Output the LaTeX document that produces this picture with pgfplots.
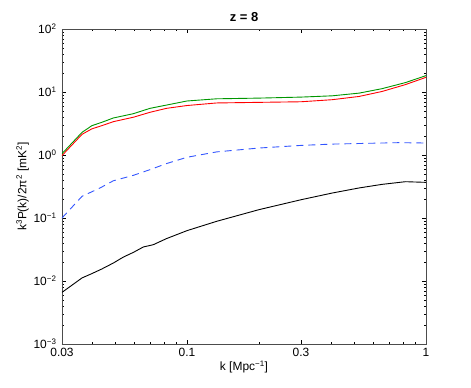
\documentclass[border=0pt]{standalone}
\usepackage{pgfplots}
\pgfplotsset{compat=1.18}
\usepackage{fontspec}
\setmainfont{Liberation Sans}
\definecolor{pgreen}{RGB}{0,150,0}
\definecolor{pred}{RGB}{255,0,0}
\definecolor{pblue}{RGB}{50,85,255}
\begin{document}
\begin{tikzpicture}
\useasboundingbox (-62bp,-44bp) rectangle (409bp,344bp);
\begin{axis}[
    scale only axis,
    width=364bp, height=315bp,
    xmode=log, ymode=log,
    xmin=0.03, xmax=1,
    ymin=1e-3, ymax=1e2,
    font=\fontsize{12}{14}\selectfont,
    /pgf/number format/assume math mode=true,
    xtick={0.03,0.1,0.3,1},
    xticklabels={0.03,0.1,0.3,1},
    minor xtick={0.04,0.05,0.06,0.07,0.08,0.09,0.2,0.4,0.5,0.6,0.7,0.8,0.9},
    ytick={1e-3,1e-2,1e-1,1,1e1,1e2},
    yticklabels={10\textsuperscript{−3},10\textsuperscript{−2},10\textsuperscript{−1},10\textsuperscript{0},10\textsuperscript{1},10\textsuperscript{2}},
    tick align=inside,
    major tick length=4bp,
    minor tick length=2bp,
    every tick/.style={black, line width=0.5pt},
    axis line style={line width=0.6pt, black!70},
    xticklabel style={yshift=-1bp},
    yticklabel style={xshift=-2bp},
    title={\textbf{z = 8}},
    title style={font=\fontsize{13}{15}\selectfont, yshift=-2bp},
    xlabel={k [Mpc\textsuperscript{−1}]},
    ylabel={k\textsuperscript{3}P(k)/2π\textsuperscript{2} [mK\textsuperscript{2}]},
    xlabel style={yshift=3bp},
    ylabel style={yshift=-2bp},
    every axis plot/.append style={line width=0.9pt},
]
% green
\addplot[pgreen] coordinates {
(0.03,1.05)(0.0364,2.29)(0.040,2.92)(0.044,3.3)(0.0492,3.87)(0.0597,4.53)
(0.070,5.5)(0.082,6.2)(0.1,7.2)(0.133,7.8)(0.20,8.0)(0.3,8.3)(0.405,8.7)
(0.525,9.6)(0.655,11.3)(0.82,14.1)(1,18.2)};
% red
\addplot[pred] coordinates {
(0.03,0.98)(0.0364,2.13)(0.040,2.6)(0.044,2.92)(0.0492,3.38)(0.0597,3.98)
(0.070,4.76)(0.082,5.5)(0.1,6.1)(0.133,6.7)(0.20,6.85)(0.3,7.0)(0.405,7.55)
(0.525,8.5)(0.655,10.2)(0.82,13.1)(1,17.1)};
% blue dashed
\addplot[pblue, dash pattern=on 7bp off 5bp] coordinates {
(0.03,0.1)(0.0364,0.221)(0.0433,0.30)(0.0492,0.39)(0.0597,0.476)(0.070,0.585)
(0.082,0.73)(0.1,0.92)(0.133,1.12)(0.20,1.29)(0.3,1.42)(0.405,1.49)
(0.56,1.53)(0.77,1.57)(1,1.55)};
% black
\addplot[black] coordinates {
(0.03,0.0066)(0.0364,0.0112)(0.040,0.0131)(0.044,0.0155)(0.0492,0.0193)
(0.0542,0.024)(0.0597,0.0285)(0.0657,0.0347)(0.0723,0.0377)(0.082,0.047)
(0.1,0.063)(0.133,0.0885)(0.20,0.1356)(0.3,0.195)(0.405,0.249)(0.525,0.30)
(0.655,0.342)(0.82,0.377)(1,0.368)};
\end{axis}
\end{tikzpicture}
\end{document}
